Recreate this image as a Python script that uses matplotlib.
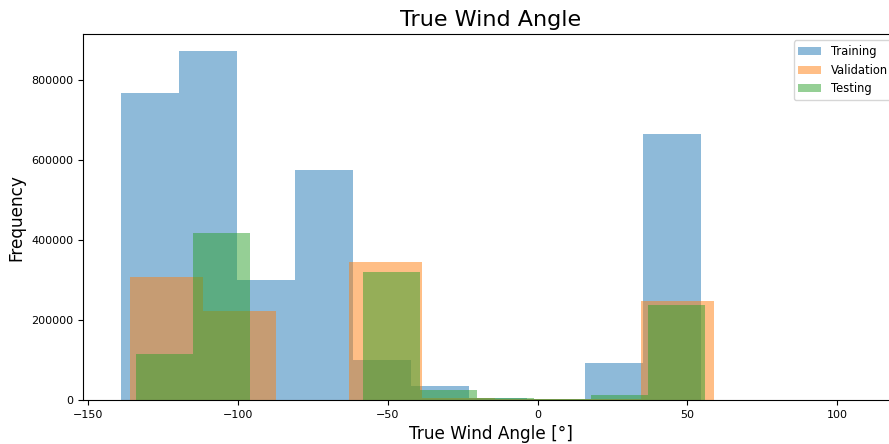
import matplotlib
matplotlib.use("Agg")
import matplotlib.pyplot as plt
import numpy as np

# Bin edges (degrees) and counts
train_edges = [-139.0, -119.6, -100.2, -80.9, -61.5, -42.2, -22.8, -3.5, 15.9, 35.2, 54.6]
train_counts = [767000, 872000, 300000, 574000, 100000, 36000, 6000, 2000, 92000, 664000]

val_edges = [-136.0, -111.65, -87.3, -62.95, -38.6, -14.25, 10.1, 34.45, 58.8]
val_counts = [307000, 223000, 0, 344000, 5000, 2000, 1500, 248000]

test_edges = [-134.0, -115.0, -96.0, -77.1, -58.1, -39.1, -20.1, -1.1, 17.9, 36.8, 55.8]
test_counts = [115000, 417500, 0, 0, 319000, 24000, 5000, 1500, 12500, 237500]

labels = ["Training", "Validation", "Testing"]

fig = plt.figure(figsize=(8.89, 4.44), dpi=100)
ax = fig.add_axes([83 / 889, 44 / 444, 815 / 889, 365.5 / 444])

for edges, counts, lab in [(train_edges, train_counts, labels[0]),
                           (val_edges, val_counts, labels[1]),
                           (test_edges, test_counts, labels[2])]:
    e = np.array(edges)
    centers = (e[:-1] + e[1:]) / 2
    ax.hist(centers, bins=e, weights=counts, alpha=0.5, label=lab)

ax.set_xlim(-151.7, 120.3)
ax.set_ylim(0, 913500)
ax.tick_params(labelsize=8)
ax.set_title("True Wind Angle", fontsize=16)
ax.set_xlabel("True Wind Angle [°]", fontsize=12.2)
ax.set_ylabel("Frequency", fontsize=12.2)
ax.legend(loc="upper right", fontsize=8.3)

fig.savefig("out.png", dpi=100)
